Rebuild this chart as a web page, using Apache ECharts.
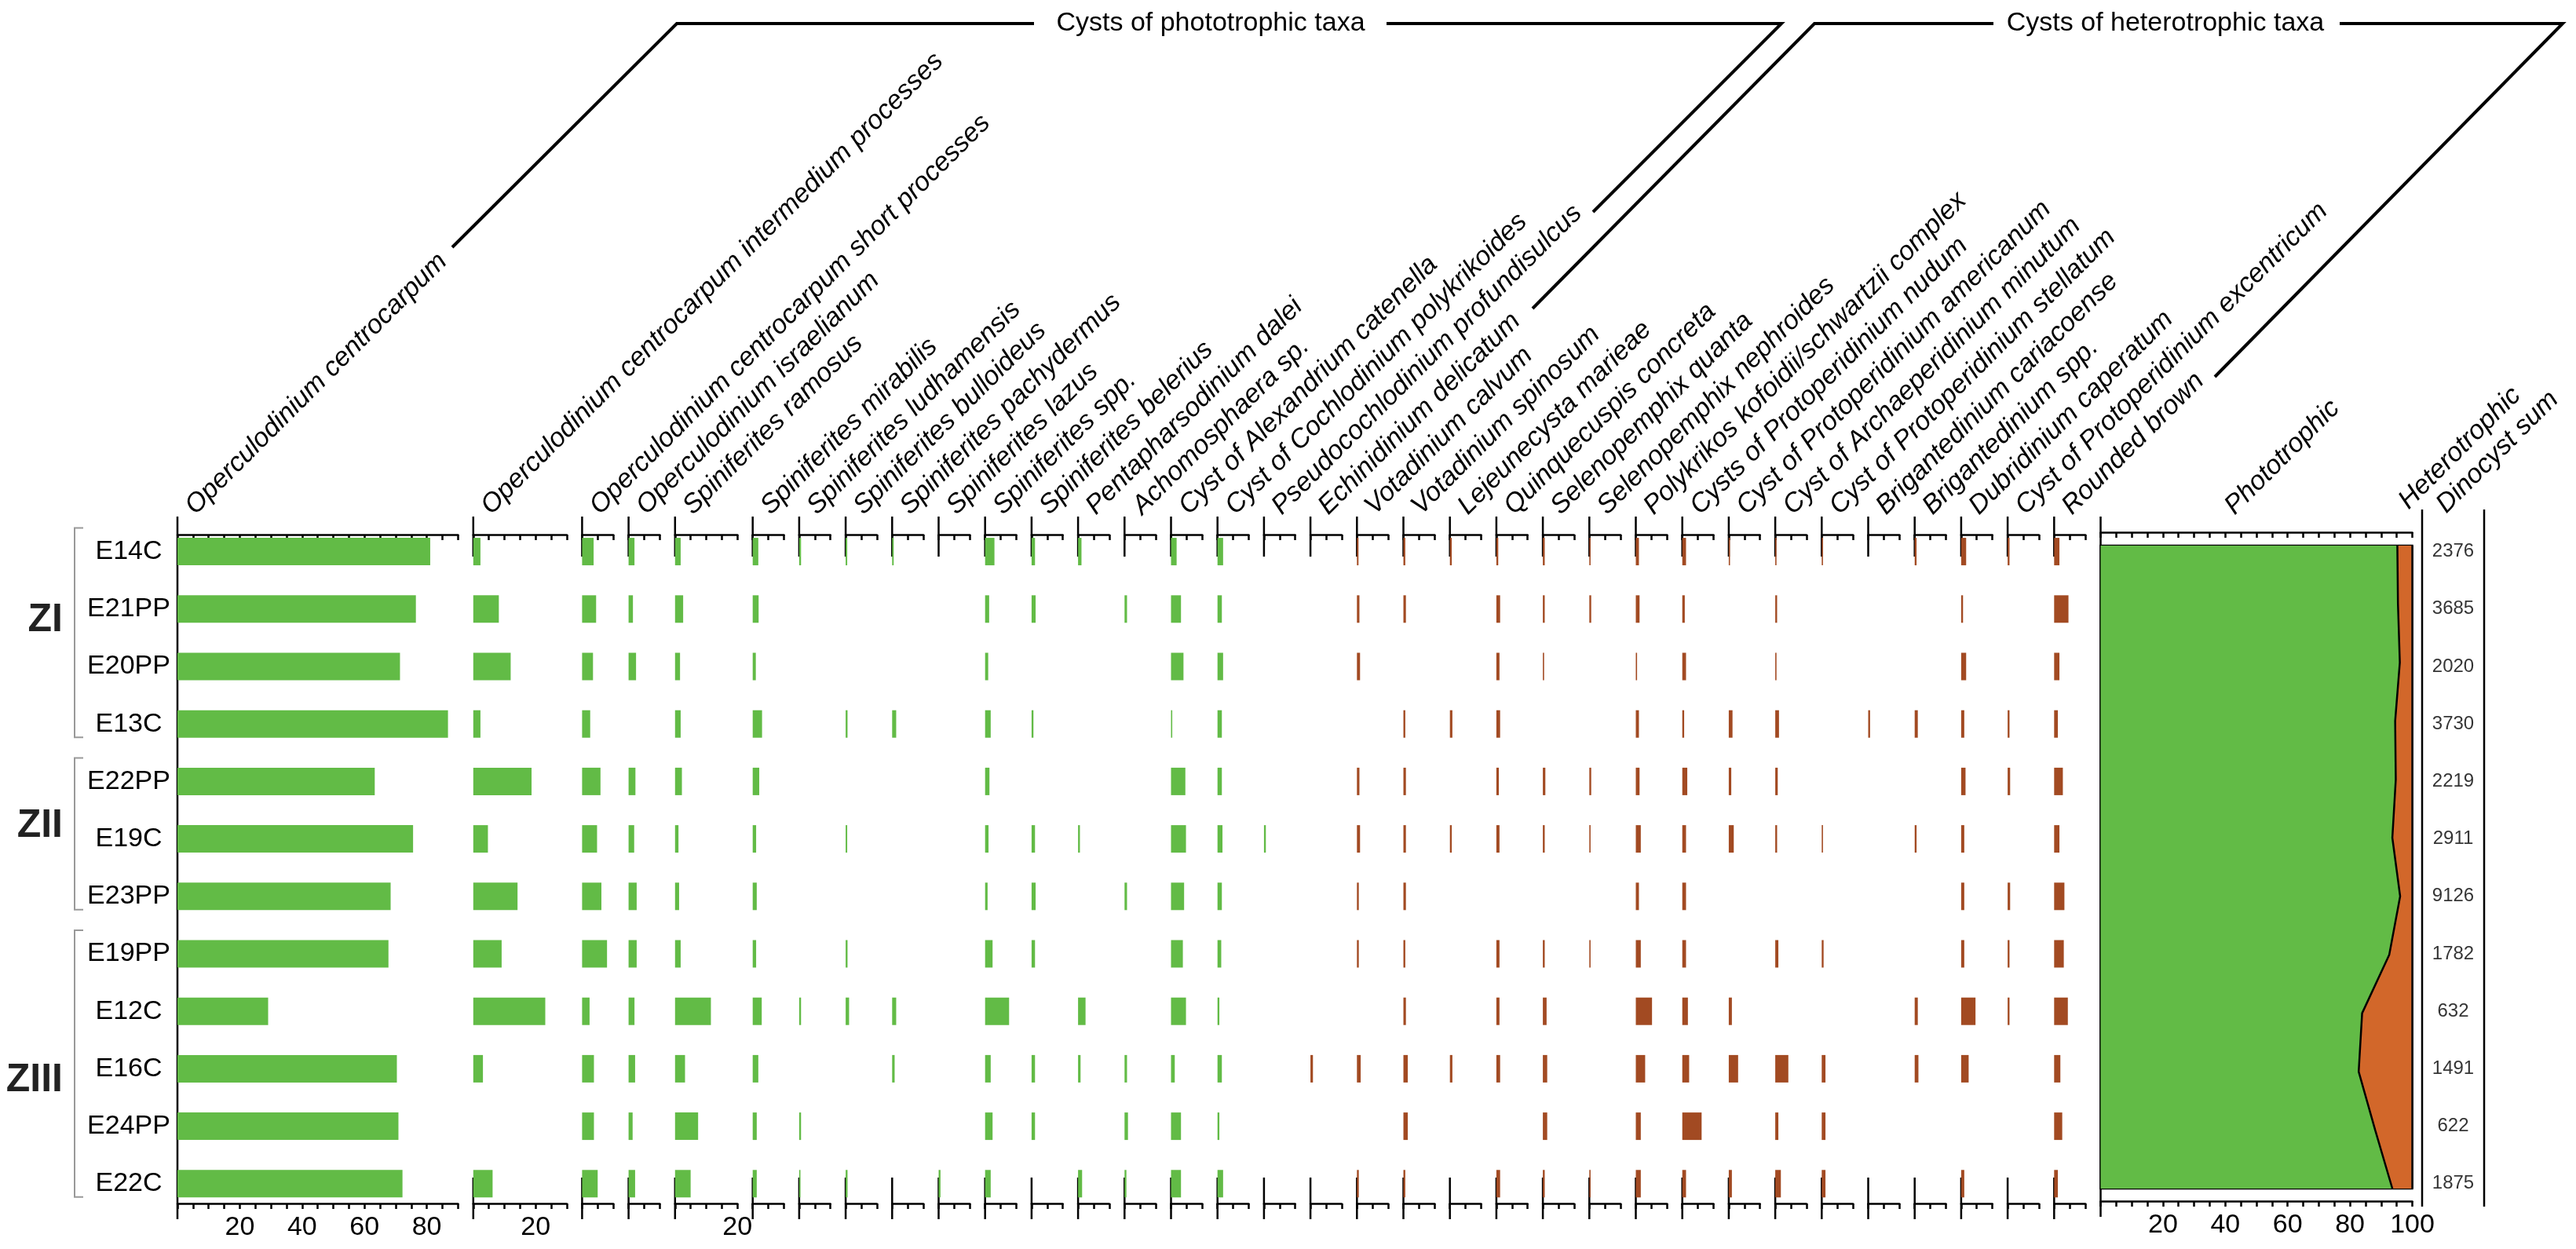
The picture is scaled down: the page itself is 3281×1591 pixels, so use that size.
<!DOCTYPE html>
<html>
<head>
<meta charset="utf-8">
<title>Dinocyst assemblages</title>
<script src="https://cdn.jsdelivr.net/npm/echarts@6.0.0/dist/echarts.min.js"></script>
<style>
html,body{margin:0;padding:0;background:#fff;}
#main{width:3281px;height:1591px;}
</style>
</head>
<body>
<div id="main"></div>
<script>
/* samples (top to bottom) */
var samples = ['E14C','E21PP','E20PP','E13C','E22PP','E19C','E23PP','E19PP','E12C','E16C','E24PP','E22C'];
var dinocystSum = [2376,3685,2020,3730,2219,2911,9126,1782,632,1491,622,1875];
var phototrophic = [95.2,95.4,96.0,94.5,94.7,93.6,96.1,92.6,83.9,82.8,88.1,93.6];
var heterotrophic = [4.8,4.6,4.0,5.5,5.3,6.4,3.9,7.4,16.1,17.2,11.9,6.4];

/* cysts of phototrophic taxa, % */
var oCentrocarpum   = [81.1,76.5,71.4,86.8,63.3,75.6,68.4,67.7,29.1,70.4,70.9,72.2];
var oCentroInterm   = [2.3,8.2,12.0,2.3,18.7,4.7,14.2,9.1,23.1,3.1,0,6.2];
var oCentroShort    = [3.7,4.5,3.5,2.6,5.9,4.8,6.2,8.0,2.4,3.8,3.8,5.0];
var oIsraelianum    = [1.9,1.4,2.4,0,2.2,1.8,2.6,2.6,1.9,2.1,1.3,2.1];
var sRamosus        = [1.8,2.6,1.6,1.8,2.2,1.1,1.3,1.8,11.5,3.2,7.4,5.0];
var sMirabilis      = [1.8,1.9,1.0,3.0,2.1,1.1,1.3,1.1,2.9,1.8,1.3,1.3];
var sLudhamensis    = [0.6,0,0,0,0,0,0,0,0.6,0,0.6,0.4];
var sBulloideus     = [0.5,0,0,0.6,0,0.5,0,0.6,1.1,0,0,0.6];
var sPachydermus    = [0.5,0,0,1.3,0,0,0,0,1.3,0.8,0,0];
var sLazus          = [0,0,0,0,0,0,0,0,0,0,0,0.6];
var spiniferitesSpp = [3.0,1.3,1.0,1.8,1.4,1.1,0.8,2.4,7.7,1.8,2.4,1.8];
var sBelerius       = [1.1,1.3,0,0.6,0,1.1,1.3,1.1,0,1.1,1.1,0];
var pDalei          = [1.1,0,0,0,0,0.6,0,0,2.4,0.8,0,1.3];
var achomosphaera   = [0,0.8,0,0,0,0,0.8,0,0,0.8,1.1,0.6];
var aCatenella      = [1.8,3.2,4.0,0.4,4.6,4.8,4.2,3.8,4.8,1.2,3.2,3.2];
var cPolykrikoides  = [1.8,1.4,1.8,1.4,1.4,1.6,1.4,1.2,0.6,1.4,0.6,1.8];
var pProfundisulcus = [0,0,0,0,0,0.6,0,0,0,0,0,0];

/* cysts of heterotrophic taxa, % */
var eDelicatum      = [0,0,0,0,0,0,0,0,0,0.8,0,0];
var vCalvum         = [0.5,0.8,1.0,0,0.8,1.0,0.6,0.6,0,1.2,0,0.6];
var vSpinosum       = [0.6,0.8,0,0.6,0.8,0.8,0.8,0.6,0.8,1.4,1.4,0.6];
var lMarieae        = [0.6,0,0,0.8,0,0.6,0,0,0,0.8,0,0];
var qConcreta       = [0.6,1.2,1.0,1.2,0.8,1.0,0,1.0,1.0,1.2,0,1.2];
var sQuanta         = [0.6,0.6,0.4,0,0.8,0.6,0,0.6,1.2,1.4,1.4,0.6];
var sNephroides     = [0.4,0.6,0,0,0.6,0.4,0,0.4,0,0,0,0.4];
var polykrikos      = [1.0,1.2,0.4,1.0,1.2,1.6,1.0,1.6,5.2,3.0,1.6,1.6];
var pNudum          = [1.2,0.8,1.2,0.6,1.6,1.2,1.2,1.2,1.8,2.2,6.2,1.2];
var pAmericanum     = [0.4,0,0,1.2,0.8,1.6,0,0,1.0,3.0,0,1.0];
var aMinutum        = [0.4,0.6,0.4,1.2,0.8,0.6,0,1.0,0,4.2,1.0,1.8];
var pStellatum      = [0.4,0,0,0,0,0.4,0,0.6,0,1.2,1.2,1.2];
var bCariacoense    = [0,0,0,0.6,0,0,0,0,0,0,0,0];
var brigantedinium  = [0.6,0,0,1.0,0,0.6,0,0,1.0,1.2,0,0];
var dCaperatum      = [1.6,0.6,1.6,1.0,1.4,1.0,1.0,1.0,4.6,2.4,0,1.0];
var pExcentricum    = [0.6,0,0,0.6,0.8,0,0.8,0.6,0.6,0,0,0];
var roundedBrown    = [1.7,4.6,1.7,1.2,2.8,1.7,3.3,3.1,4.4,2.0,2.6,1.2];

/* name, values, axis max, group */
var taxa = [
  ['Operculodinium centrocarpum', oCentrocarpum, 90, 'p'],
  ['Operculodinium centrocarpum intermedium processes', oCentroInterm, 30, 'p'],
  ['Operculodinium centrocarpum short processes', oCentroShort, 10, 'p'],
  ['Operculodinium israelianum', oIsraelianum, 10, 'p'],
  ['Spiniferites ramosus', sRamosus, 20, 'p'],
  ['Spiniferites mirabilis', sMirabilis, 10, 'p'],
  ['Spiniferites ludhamensis', sLudhamensis, 10, 'p'],
  ['Spiniferites bulloideus', sBulloideus, 10, 'p'],
  ['Spiniferites pachydermus', sPachydermus, 10, 'p'],
  ['Spiniferites lazus', sLazus, 10, 'p'],
  ['Spiniferites spp.', spiniferitesSpp, 10, 'p'],
  ['Spiniferites belerius', sBelerius, 10, 'p'],
  ['Pentapharsodinium dalei', pDalei, 10, 'p'],
  ['Achomosphaera sp.', achomosphaera, 10, 'p'],
  ['Cyst of Alexandrium catenella', aCatenella, 10, 'p'],
  ['Cyst of Cochlodinium polykrikoides', cPolykrikoides, 10, 'p'],
  ['Pseudocochlodinium profundisulcus', pProfundisulcus, 10, 'p'],
  ['Echinidinium delicatum', eDelicatum, 10, 'h'],
  ['Votadinium calvum', vCalvum, 10, 'h'],
  ['Votadinium spinosum', vSpinosum, 10, 'h'],
  ['Lejeunecysta marieae', lMarieae, 10, 'h'],
  ['Quinquecuspis concreta', qConcreta, 10, 'h'],
  ['Selenopemphix quanta', sQuanta, 10, 'h'],
  ['Selenopemphix nephroides', sNephroides, 10, 'h'],
  ['Polykrikos kofoidii/schwartzii complex', polykrikos, 10, 'h'],
  ['Cysts of Protoperidinium nudum', pNudum, 10, 'h'],
  ['Cyst of Protoperidinium americanum', pAmericanum, 10, 'h'],
  ['Cyst of Archaeperidinium minutum', aMinutum, 10, 'h'],
  ['Cyst of Protoperidinium stellatum', pStellatum, 10, 'h'],
  ['Brigantedinium cariacoense', bCariacoense, 10, 'h'],
  ['Brigantedinium spp.', brigantedinium, 10, 'h'],
  ['Dubridinium caperatum', dCaperatum, 10, 'h'],
  ['Cyst of Protoperidinium excentricum', pExcentricum, 10, 'h'],
  ['Rounded brown', roundedBrown, 10, 'h']
];

/* zones: name, first row, last row, label row */
var zones = [['ZI',0,3,1.2],['ZII',4,6,4.77],['ZIII',7,11,9.2]];

var FONT = '"Liberation Sans", Arial, sans-serif';
var GREEN = '#62bb46', BROWN = '#a24a22', ORANGE = '#d2672a';

/* layout */
var K = 3.97;          // px per percent
var GAP = 19.5;
var X0 = 226;
var TOP = 666, ROW = 73.2, H = ROW * samples.length;
function rowY(r){ return TOP + ROW * (r + 0.5); }

var grids = [], xAxes = [], yAxes = [], series = [], graphics = [];

function bottomLabel(v){ return (v > 0 && v % 20 === 0) ? v : ''; }

function addAxes(gi, max, topOff, botOff){
  var base = {
    gridIndex: gi, type: 'value', min: 0, max: max, interval: 5,
    splitLine: {show: false},
    axisLine: {show: true, lineStyle: {color: '#000', width: 2.5}},
    axisTick: {show: true, length: 7, lineStyle: {color: '#000', width: 2.5}}
  };
  xAxes.push(Object.assign({}, base, {
    position: 'bottom', offset: botOff,
    axisTick: Object.assign({}, base.axisTick, {inside: false}),
    axisLabel: {show: true, formatter: bottomLabel, fontSize: 34, fontFamily: FONT, color: '#000', margin: 14}
  }));
  xAxes.push(Object.assign({}, base, {
    position: 'top', offset: topOff,
    axisTick: Object.assign({}, base.axisTick, {inside: true}),
    axisLabel: {show: false}
  }));
  return xAxes.length - 2;
}

function vline(x, y1, y2, w, c){
  graphics.push({type: 'line', silent: true,
    shape: {x1: x, y1: y1, x2: x, y2: y2},
    style: {stroke: c || '#000', lineWidth: w || 2.5}});
}

function slantLabel(text, x, y, italic){
  graphics.push({type: 'text', silent: true, x: x, y: y, rotation: Math.PI / 4,
    style: {text: text, font: (italic ? 'italic ' : '') + '34px ' + FONT, fill: '#000',
      textAlign: 'left', textVerticalAlign: 'middle', align: 'left', verticalAlign: 'middle'}});
}

/* taxa panels */
var x = X0;
taxa.forEach(function(t, i){
  var w = t[2] * K;
  grids.push({left: x, top: TOP, width: w, height: H});
  var xi = addAxes(i, t[2], -15, -11.4);
  yAxes.push({
    gridIndex: i, type: 'category', data: samples, inverse: true,
    show: i === 0,
    axisLine: {show: false}, axisTick: {show: false},
    axisLabel: {show: i === 0, fontSize: 34, fontFamily: FONT, color: '#000', align: 'center', margin: 62}
  });
  series.push({
    type: 'bar', xAxisIndex: xi, yAxisIndex: i, data: t[1], barWidth: 35,
    itemStyle: {color: t[3] === 'p' ? GREEN : BROWN}, silent: true
  });
  if (i === 0) {
    vline(x, 658, 1553);
  } else {
    vline(x, 658, 709);
    vline(x, 1500, 1553);
  }
  slantLabel(t[0], x + 16, 650, true);
  x += w + GAP;
});

/* phototrophic / heterotrophic area panel */
var ai = taxa.length;
var areaLeft = x;
grids.push({left: areaLeft, top: 695, width: 100 * K, height: 819, show: true,
  borderColor: '#000', borderWidth: 2.5, backgroundColor: 'transparent'});
var axi = addAxes(ai, 100, 17, 16);
yAxes.push({gridIndex: ai, type: 'category', data: samples, inverse: true, boundaryGap: false, show: false});
series.push({
  type: 'line', xAxisIndex: axi, yAxisIndex: ai, data: phototrophic, stack: 'total',
  symbol: 'none', lineStyle: {color: '#000', width: 2.5},
  areaStyle: {color: GREEN, opacity: 1}, silent: true
});
series.push({
  type: 'line', xAxisIndex: axi, yAxisIndex: ai, data: heterotrophic, stack: 'total',
  symbol: 'none', lineStyle: {color: '#000', width: 2.5},
  areaStyle: {color: ORANGE, opacity: 1}, silent: true
});
vline(areaLeft, 658, 1550);
slantLabel('Phototrophic', areaLeft + 164, 650, true);
slantLabel('Heterotrophic', 3061, 643, true);
slantLabel('Dinocyst sum', 3109, 648, true);

/* dinocyst sum column */
var di = ai + 1;
grids.push({left: 3085, top: TOP, width: 79, height: H});
xAxes.push({gridIndex: di, type: 'value', min: 0, max: 1, show: false});
yAxes.push({gridIndex: di, type: 'category', data: samples, inverse: true, show: false});
series.push({
  type: 'scatter', xAxisIndex: xAxes.length - 1, yAxisIndex: di,
  data: dinocystSum.map(function(v, i){ return [0.5, i, v]; }),
  symbolSize: 1, itemStyle: {color: 'rgba(0,0,0,0)'}, silent: true,
  label: {show: true, position: 'inside', formatter: function(p){ return p.value[2]; },
    fontSize: 24, fontFamily: FONT, color: '#000'}
});
vline(3085, 649, 1537);
vline(3164, 649, 1537);

/* zone brackets */
zones.forEach(function(z){
  var y1 = rowY(z[1]) - 30, y2 = rowY(z[2]) + 17;
  graphics.push({type: 'polyline', silent: true,
    shape: {points: [[106, y1], [95, y1], [95, y2], [106, y2]]},
    style: {stroke: '#999', lineWidth: 2, fill: null}});
  graphics.push({type: 'text', silent: true, x: 80, y: rowY(z[3]),
    style: {text: z[0], font: 'bold 50px ' + FONT, fill: '#222',
      textAlign: 'right', textVerticalAlign: 'middle', align: 'right', verticalAlign: 'middle'}});
});

/* group brackets */
function bracket(pts){
  graphics.push({type: 'polyline', silent: true, shape: {points: pts},
    style: {stroke: '#000', lineWidth: 4, fill: null}});
}
bracket([[576,315],[862,30],[1317,30]]);
bracket([[1766,30],[2269,30],[2029,270]]);
bracket([[1952,393],[2311,30],[2539,30]]);
bracket([[2980,30],[3264,30],[2821,480]]);
graphics.push({type: 'text', silent: true, x: 1542, y: 30,
  style: {text: 'Cysts of phototrophic taxa', font: '34px ' + FONT, fill: '#000',
    textAlign: 'center', textVerticalAlign: 'middle', align: 'center', verticalAlign: 'middle'}});
graphics.push({type: 'text', silent: true, x: 2758, y: 30,
  style: {text: 'Cysts of heterotrophic taxa', font: '34px ' + FONT, fill: '#000',
    textAlign: 'center', textVerticalAlign: 'middle', align: 'center', verticalAlign: 'middle'}});

var myChart = echarts.init(document.getElementById('main'));
myChart.setOption({
  backgroundColor: '#fff',
  animation: false,
  textStyle: {fontFamily: FONT},
  grid: grids,
  xAxis: xAxes,
  yAxis: yAxes,
  series: series,
  graphic: {elements: graphics}
});
</script>
</body>
</html>
